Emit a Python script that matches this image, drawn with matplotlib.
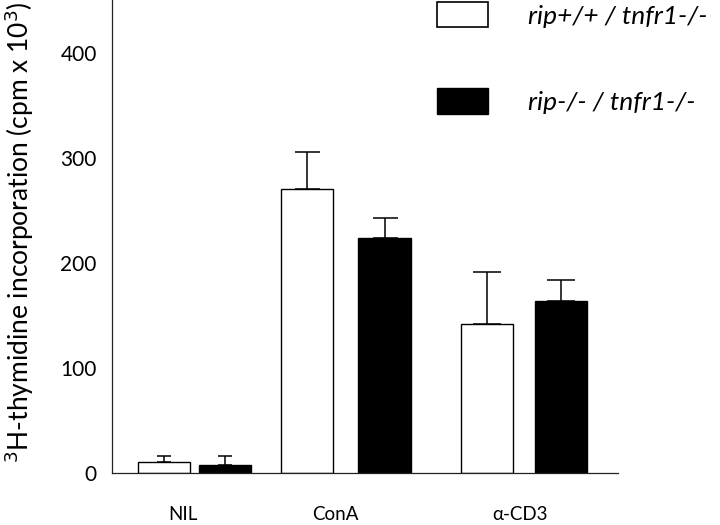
import matplotlib
matplotlib.use("Agg")
import matplotlib.pyplot as plt
from matplotlib.patches import Patch

plt.rcParams['font.family'] = ['Lato', 'DejaVu Sans']

# Data #
categories = ['NIL', 'ConA', 'α-CD3']
series_names = ['rip+/+ / tnfr1-/-', 'rip-/- / tnfr1-/-']
wt_values = [10, 270, 142]
wt_err = [6, 35, 49]
ko_values = [8, 224, 164]
ko_err = [8, 19, 20]

# Layout (bar width = 1 unit) #
wt_pos = [1.0, 3.75, 7.22]
ko_pos = [2.18, 5.24, 8.64]
label_pos = [1.37, 4.29, 7.85]
capsizes = [5, 9, 10]

fig = plt.figure(figsize=(7.2, 5.25), dpi=100)
ax = fig.add_axes([112 / 720, 52 / 525, 506 / 720, 473 / 525])

ax.bar(wt_pos, wt_values, width=1.0, color='white', edgecolor='black', linewidth=1.0, zorder=2)
ax.bar(ko_pos, ko_values, width=1.0, color='black', edgecolor='black', linewidth=1.0, zorder=2)

for i in range(len(categories)):
    ax.errorbar(wt_pos[i], wt_values[i], yerr=[[0], [wt_err[i]]], fmt='none',
                ecolor='black', elinewidth=1.1, capsize=capsizes[i], capthick=1.1, zorder=1)
    ax.errorbar(ko_pos[i], ko_values[i], yerr=[[0], [ko_err[i]]], fmt='none',
                ecolor='black', elinewidth=1.1, capsize=capsizes[i], capthick=1.1, zorder=1)

ax.set_xlim(0, 9.73)
ax.set_ylim(0, 450)
ax.set_yticks([0, 100, 200, 300, 400])
ax.set_xticks(label_pos)
ax.set_xticklabels(categories, fontsize=13.5)
ax.tick_params(axis='y', length=0, pad=11, labelsize=15)
ax.tick_params(axis='x', length=0, pad=24)

for side in ['top', 'right']:
    ax.spines[side].set_visible(False)
for side in ['left', 'bottom']:
    ax.spines[side].set_linewidth(0.9)
    ax.spines[side].set_color('#222222')

ax.set_ylabel('$^{3}$H-thymidine incorporation (cpm x 10$^{3}$)', fontsize=19)
ax.yaxis.set_label_coords(-0.15, 0.51)

# Legend #
handles = [Patch(facecolor='white', edgecolor='black', linewidth=1.2),
           Patch(facecolor='black', edgecolor='black')]
leg = fig.legend(handles, series_names, loc='upper left', bbox_to_anchor=(437 / 720, 1 - 2 / 525),
                 frameon=False, borderpad=0, borderaxespad=0,
                 handlelength=1.95, handleheight=1.1, handletextpad=1.5, labelspacing=2.3,
                 prop={'size': 19, 'style': 'italic'})

fig.savefig('out.png', dpi=100)
